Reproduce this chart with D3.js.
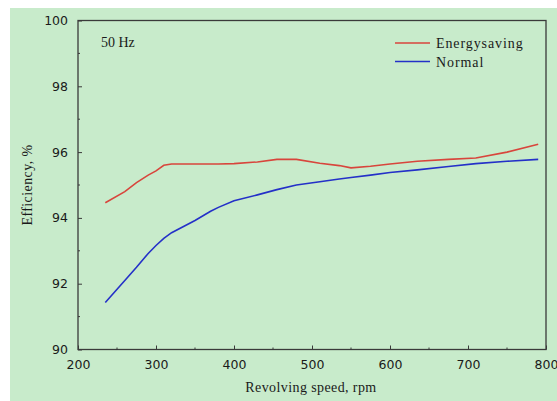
<!DOCTYPE html>
<html>
<head>
<meta charset="utf-8">
<script src="https://cdn.jsdelivr.net/npm/d3@7"></script>
<style>
  body { margin: 0; background: #fff; }
  svg { display: block; }
</style>
</head>
<body>
<svg id="chart"></svg>
<script>
// data
const speed = [235, 260, 275, 290, 300, 310, 320, 350, 370, 380, 400, 430, 455, 480, 510, 535, 550, 575, 600, 635, 675, 710, 750, 790];
const energySaving = [94.46, 94.8, 95.07, 95.3, 95.43, 95.6, 95.64, 95.64, 95.64, 95.64, 95.65, 95.7, 95.78, 95.78, 95.66, 95.59, 95.52, 95.57, 95.64, 95.72, 95.78, 95.82, 96.0, 96.24];
const normal = [91.43, 92.1, 92.5, 92.92, 93.16, 93.38, 93.55, 93.92, 94.2, 94.32, 94.52, 94.7, 94.86, 95.0, 95.1, 95.18, 95.23, 95.3, 95.38, 95.46, 95.56, 95.65, 95.72, 95.78];
const xTicks = [200, 300, 400, 500, 600, 700, 800];
const yTicks = [90, 92, 94, 96, 98, 100];
const seriesNames = ["Energysaving", "Normal"];

const width = 557;
const height = 401;
const margin = { left: 78, right: 11, top: 20.5, bottom: 51.5 };
const colors = ["#d8453c", "#2430c8"];

const svg = d3.select('svg#chart').attr('width', width).attr('height', height);

// green panel
svg.append("rect")
    .attr("x", 10).attr("y", 8)
    .attr("width", width - 10).attr("height", height - 8)
    .attr("fill", "#c8ebcb");

const x = d3.scaleLinear().domain([200, 800]).range([margin.left, width - margin.right]);
const y = d3.scaleLinear().domain([90, 100]).range([height - margin.bottom, margin.top]);

// frame
svg.append("rect")
    .attr("x", x(200)).attr("y", y(100))
    .attr("width", x(800) - x(200)).attr("height", y(90) - y(100))
    .attr("fill", "none").attr("stroke", "#3a3a3a").attr("stroke-width", 1.3);

// minor ticks
svg.append("g").selectAll("line")
  .data(d3.range(250, 800, 100))
  .join("line")
    .attr("x1", d => x(d)).attr("x2", d => x(d))
    .attr("y1", y(90)).attr("y2", y(90) - 2)
    .attr("stroke", "#3a3a3a");
svg.append("g").selectAll("line")
  .data(d3.range(91, 100, 2))
  .join("line")
    .attr("y1", d => y(d)).attr("y2", d => y(d))
    .attr("x1", x(200)).attr("x2", x(200) + 2)
    .attr("stroke", "#3a3a3a");

// axes, ticks inward
const xAxis = svg.append("g")
    .attr("transform", `translate(0,${y(90)})`)
    .call(d3.axisBottom(x).tickValues(xTicks).tickSizeInner(-4).tickSizeOuter(0).tickPadding(11));
const yAxis = svg.append("g")
    .attr("transform", `translate(${x(200)},0)`)
    .call(d3.axisLeft(y).tickValues(yTicks).tickSizeInner(-4).tickSizeOuter(0).tickPadding(10));

[xAxis, yAxis].forEach(a => {
  a.select(".domain").remove();
  a.selectAll("line").attr("stroke", "#3a3a3a");
  a.selectAll("text")
    .attr("font-family", "DejaVu Sans, Verdana, sans-serif")
    .attr("font-size", 12.5)
    .attr("fill", "#1a1a1a");
});
xAxis.selectAll("text").attr("dy", "0.71em");

// lines
const line = d3.line().x((d, i) => x(speed[i])).y(d => y(d));
[energySaving, normal].forEach((s, i) => {
  svg.append("path")
      .datum(s)
      .attr("fill", "none")
      .attr("stroke", colors[i])
      .attr("stroke-width", 1.6)
      .attr("d", line);
});

// labels
const serif = "Liberation Serif, Times New Roman, serif";
svg.append("text")
    .attr("x", 101).attr("y", 47)
    .attr("font-family", serif).attr("font-size", 14)
    .attr("fill", "#1a1a1a")
    .text("50 Hz");

svg.append("text")
    .attr("x", 311).attr("y", 392)
    .attr("text-anchor", "middle")
    .attr("font-family", serif).attr("font-size", 14)
    .attr("letter-spacing", 0.4)
    .attr("fill", "#1a1a1a")
    .text("Revolving speed, rpm");

svg.append("text")
    .attr("transform", "translate(32,185) rotate(-90)")
    .attr("text-anchor", "middle")
    .attr("font-family", serif).attr("font-size", 14)
    .attr("letter-spacing", 0.4)
    .attr("fill", "#1a1a1a")
    .text("Efficiency, %");

// legend
const legend = svg.append("g");
seriesNames.forEach((name, i) => {
  const ly = 43 + i * 18.5;
  legend.append("line")
      .attr("x1", 395).attr("x2", 430)
      .attr("y1", ly).attr("y2", ly)
      .attr("stroke", colors[i]).attr("stroke-width", 1.6);
  legend.append("text")
      .attr("x", 436).attr("y", ly + 5)
      .attr("font-family", serif).attr("font-size", 14)
      .attr("letter-spacing", 0.9)
      .attr("fill", "#1a1a1a")
      .text(name);
});
</script>
</body>
</html>
